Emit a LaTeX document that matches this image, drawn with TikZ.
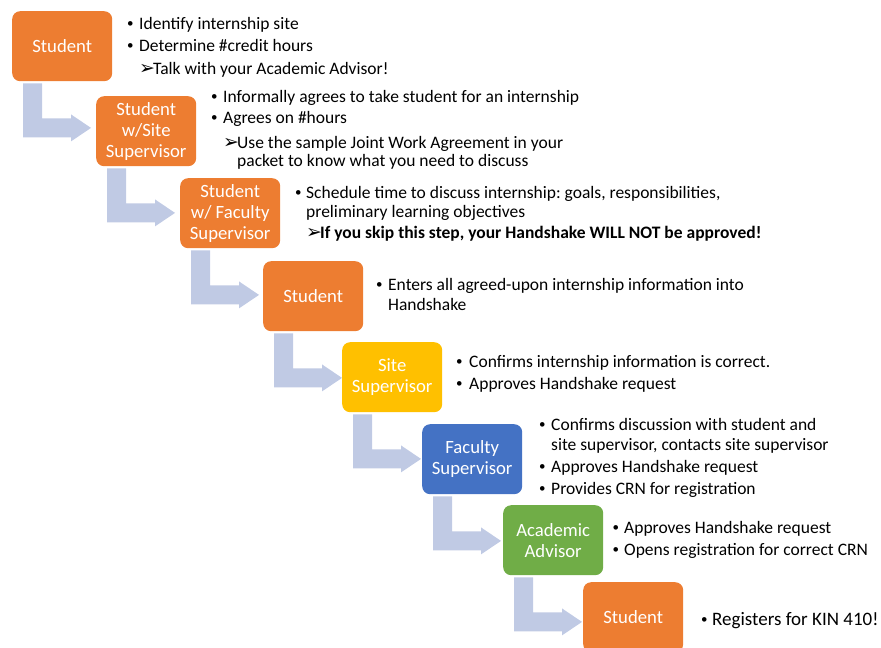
\documentclass[tikz,border=0pt]{standalone}
\usepackage{fontspec}
\setmainfont{Carlito}
\newfontfamily\dv{DejaVu Sans}
\usetikzlibrary{calc}
\definecolor{corange}{RGB}{237,125,49}
\definecolor{cyellow}{RGB}{255,192,0}
\definecolor{cblue}{RGB}{68,114,196}
\definecolor{cgreen}{RGB}{112,173,71}
\definecolor{arrowc}{RGB}{192,202,228}
\newcommand\stepArrow[2]{%
  \fill[arrowc] ($(#1.south west)+(11,2)$) -- ($(#1.south west)+(30,2)$)
    -- ($(#1.south west)+(30,37)$) -- ($(#1.south west)+(59,37)$)
    -- ($(#1.south west)+(59,33)$) -- ($(#1.south west)+(79,46.5)$)
    -- ($(#1.south west)+(59,60)$) -- ($(#1.south west)+(59,56)$)
    -- ($(#1.south west)+(11,56)$) -- cycle;}
\frenchspacing
\begin{document}
\begin{tikzpicture}[x=1pt,y=-1pt,
  stepbox/.style={draw=none, fill=#1, rounded corners=8pt, minimum width=100pt,
    minimum height=70pt, inner sep=2pt, anchor=north west, text=white, align=center,
    font=\fontsize{18.7}{21}\selectfont},
  txt/.style={anchor=base west, inner sep=0pt, font=\fontsize{17.5}{21}\selectfont},
  bul/.style={anchor=base west, inner sep=0pt, font=\fontsize{13}{14}\selectfont},
  sub/.style={anchor=base west, inner sep=0pt, font=\dv\fontsize{19}{20}\selectfont}]
\useasboundingbox (0,0) rectangle (881,648);
\newcommand\bdot{\raisebox{1.6pt}{•}}
% boxes
\node[stepbox=corange] (b1) at (12,11) {Student};
\node[stepbox=corange] (b2) at (96,96) {Student\\w/Site\\Supervisor};
\node[stepbox=corange] (b3) at (180,178) {Student\\w/ Faculty\\Supervisor};
\node[stepbox=corange] (b4) at (263,261) {Student};
\node[stepbox=cyellow] (b5) at (342,342) {Site\\Supervisor};
\node[stepbox=cblue] (b6) at (422,424) {Faculty\\Supervisor};
\node[stepbox=cgreen] (b7) at (503,505) {Academic\\Advisor};
\node[stepbox=corange] (b8) at (583,582) {Student};
% arrows
\stepArrow{b1}{b2}
\stepArrow{b2}{b3}
\stepArrow{b3}{b4}
\stepArrow{b4}{b5}
\stepArrow{b5}{b6}
\stepArrow{b6}{b7}
\stepArrow{b7}{b8}
% texts box 1
\node[bul] (p1a) at (127,29.5) {\bdot};
\node[txt] (t1a) at (139,29.5) {Identify internship site};
\node[bul] (p1b) at (127,51) {\bdot};
\node[txt] (t1b) at (139,51) {Determine \#credit hours};
\node[sub] (s1c) at (139,74) {➢};
\node[txt] (t1c) at (153,74) {Talk with your Academic Advisor!};
% box 2
\node[bul] (p2a) at (211,102) {\bdot};
\node[txt] (t2a) at (223,102) {Informally agrees to take student for an internship};
\node[bul] (p2b) at (211,123.5) {\bdot};
\node[txt] (t2b) at (223,123.5) {Agrees on \#hours};
\node[sub] (s2c) at (223,148) {➢};
\node[txt] (t2c) at (237,148) {Use the sample Joint Work Agreement in your};
\node[txt] (t2d) at (237,166.5) {packet to know what you need to discuss};
% box 3
\node[bul] (p3a) at (295,198.5) {\bdot};
\node[txt] (t3a) at (306,198.5) {Schedule time to discuss internship: goals, responsibilities,};
\node[txt] (t3b) at (306,217.5) {preliminary learning objectives};
\node[sub] (s3c) at (306,238.5) {➢};
\node[txt] (t3c) at (320,238.5) {\bfseries If you skip this step, your Handshake WILL NOT be approved!};
% box 4
\node[bul] (p4a) at (376,290.5) {\bdot};
\node[txt] (t4a) at (388,290.5) {Enters all agreed-upon internship information into};
\node[txt] (t4b) at (388,310.5) {Handshake};
% box 5
\node[bul] (p5a) at (456,367.5) {\bdot};
\node[txt] (t5a) at (469,367.5) {Confirms internship information is correct.};
\node[bul] (p5b) at (456,389.5) {\bdot};
\node[txt] (t5b) at (469,389.5) {Approves Handshake request};
% box 6
\node[bul] (p6a) at (539,430.5) {\bdot};
\node[txt] (t6a) at (551,430.5) {Confirms discussion with student and};
\node[txt] (t6b) at (551,450.5) {site supervisor, contacts site supervisor};
\node[bul] (p6c) at (539,472.5) {\bdot};
\node[txt] (t6c) at (551,472.5) {Approves Handshake request};
\node[bul] (p6d) at (539,494.5) {\bdot};
\node[txt] (t6d) at (551,494.5) {Provides CRN for registration};
% box 7
\node[bul] (p7a) at (612.5,533) {\bdot};
\node[txt] (t7a) at (624,533) {Approves Handshake request};
\node[bul] (p7b) at (612.5,555) {\bdot};
\node[txt] (t7b) at (624,555) {Opens registration for correct CRN};
% box 8
\node[bul] (p8a) at (701,625) {\bdot};
\node[txt,font=\fontsize{19}{21}\selectfont] (t8a) at (712,625) {Registers for KIN 410!};
\end{tikzpicture}
\end{document}
